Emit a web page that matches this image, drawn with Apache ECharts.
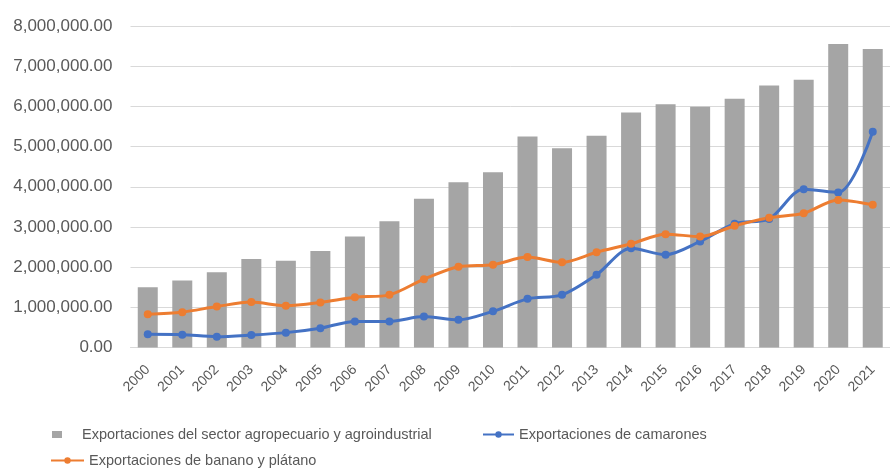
<!DOCTYPE html>
<html>
<head>
<meta charset="utf-8">
<script src="https://cdn.jsdelivr.net/npm/echarts@6/dist/echarts.min.js"></script>
<style>html,body{margin:0;padding:0;background:#fff;}#c{width:890px;height:468px;}</style>
</head>
<body>
<div id="c"></div>
<script>
const years = ['2000','2001','2002','2003','2004','2005','2006','2007','2008','2009','2010','2011','2012','2013','2014','2015','2016','2017','2018','2019','2020','2021'];
const agro = [1500000,1670000,1870000,2200000,2160000,2400000,2760000,3140000,3700000,4110000,4360000,5250000,4960000,5270000,5850000,6050000,5990000,6190000,6520000,6660000,7550000,7430000];
const camarones = [330000,320000,270000,310000,370000,480000,650000,650000,770000,690000,900000,1210000,1310000,1810000,2470000,2310000,2640000,3080000,3200000,3940000,3860000,5370000];
const banano = [830000,880000,1020000,1130000,1040000,1120000,1250000,1310000,1700000,2010000,2060000,2250000,2120000,2370000,2580000,2820000,2760000,3030000,3230000,3340000,3670000,3550000];
const names = ['Exportaciones del sector agropecuario y agroindustrial','Exportaciones de camarones','Exportaciones de banano y plátano'];

const FONT = 'Liberation Sans, Arial, sans-serif';
const chart = echarts.init(document.getElementById('c'));
const legendText = {color:'#595959', fontSize:14.5, fontFamily:FONT};
chart.setOption({
  animation:false,
  backgroundColor:'#fff',
  grid:{left:130.5, right:-12, top:26, bottom:120.5, containLabel:false},
  legend:[
    {data:[{name:names[0], icon:'rect'}], left:47, top:422, itemWidth:10, itemHeight:7, textStyle:Object.assign({padding:[0,0,0,15]},legendText)},
    {data:[{name:names[1]}], left:477, top:422, itemWidth:31, itemHeight:8, textStyle:legendText},
    {data:[{name:names[2]}], left:45, top:448, itemWidth:33, itemHeight:8, textStyle:legendText}
  ],
  xAxis:{
    type:'category', data:years, boundaryGap:true,
    axisLine:{lineStyle:{color:'#D9D9D9'}}, axisTick:{show:false},
    axisLabel:{rotate:45, margin:20, color:'#595959', fontSize:14, fontFamily:FONT, interval:0}
  },
  yAxis:{
    type:'value', min:0, max:8000000, interval:1000000,
    axisLine:{show:false}, axisTick:{show:false},
    splitLine:{lineStyle:{color:'#D9D9D9'}},
    axisLabel:{margin:18, color:'#595959', fontSize:17, fontFamily:FONT,
      formatter:v=>v.toLocaleString('en-US',{minimumFractionDigits:2, maximumFractionDigits:2})}
  },
  series:[
    {name:names[0], type:'bar', data:agro, barWidth:20, itemStyle:{color:'#A5A5A5'}},
    {name:names[1], type:'line', data:camarones, smooth:0.3, symbol:'circle', symbolSize:8,
      lineStyle:{color:'#4472C4', width:3}, itemStyle:{color:'#4472C4'}},
    {name:names[2], type:'line', data:banano, smooth:0.3, symbol:'circle', symbolSize:8,
      lineStyle:{color:'#ED7D31', width:3}, itemStyle:{color:'#ED7D31'}}
  ]
});
</script>
</body>
</html>
